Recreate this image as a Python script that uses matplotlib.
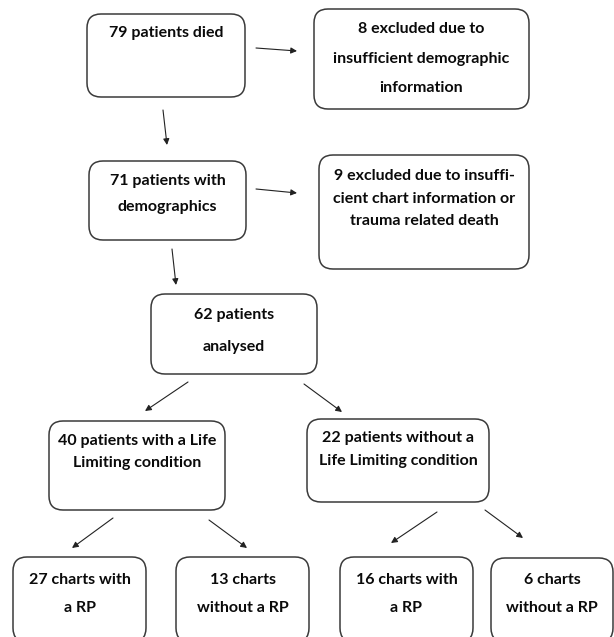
import matplotlib
matplotlib.use("Agg")
import matplotlib.pyplot as plt
from matplotlib.patches import FancyBboxPatch

# ---- data ----
counts = [79, 8, 71, 9, 62, 40, 22, 27, 13, 16, 6]
label_templates = [
    ["{} patients died"],
    ["{} excluded due to", "insufficient demographic", "information"],
    ["{} patients with", "demographics"],
    ["{} excluded due to insuffi-", "cient chart information or", "trauma related death"],
    ["{} patients", "analysed"],
    ["{} patients with a Life", "Limiting condition"],
    ["{} patients without a", "Life Limiting condition"],
    ["{} charts with", "a RP"],
    ["{} charts", "without a RP"],
    ["{} charts with", "a RP"],
    ["{} charts", "without a RP"],
]
# flow links (from box index -> to box index)
links = [(0, 1), (0, 2), (2, 3), (2, 4), (4, 5), (4, 6), (5, 7), (5, 8), (6, 9), (6, 10)]

# ---- layout (pixels) ----
W, H = 614, 637
boxes = [  # x0, y0, x1, y1
    (87, 14, 245, 97),
    (314, 9, 529, 109),
    (89, 161, 246, 240),
    (319, 155, 529, 269),
    (151, 294, 317, 374),
    (49, 421, 225, 510),
    (307, 419, 489, 502),
    (13, 557, 146, 642),
    (176, 557, 309, 642),
    (340, 557, 473, 642),
    (491, 558, 613, 642),
]
text_y = [
    [33],
    [29, 59, 88],
    [181, 207],
    [176, 199, 221],
    [315, 347],
    [441, 463],
    [438, 461],
    [580, 608],
    [580, 608],
    [580, 608],
    [580, 608],
]
arrows = [
    ((256, 48), (297, 51)),
    ((163, 110), (167, 145)),
    ((256, 189), (297, 193)),
    ((172, 249), (176, 285)),
    ((188, 382), (145, 411)),
    ((304, 384), (342, 412)),
    ((113, 518), (72, 548)),
    ((209, 520), (247, 548)),
    ((437, 512), (391, 543)),
    ((485, 510), (523, 538)),
]

fig = plt.figure(figsize=(W / 100, H / 100), dpi=100)
ax = fig.add_axes([0, 0, 1, 1])
ax.set_xlim(0, W)
ax.set_ylim(H, 0)
ax.axis("off")

FONT = ["Lato", "DejaVu Sans"]

for (x0, y0, x1, y1), tmpl, ys, n in zip(boxes, label_templates, text_y, counts):
    p = FancyBboxPatch((x0, y0), x1 - x0, y1 - y0,
                       boxstyle="round,pad=0,rounding_size=14",
                       fc="white", ec="#3a3a3a", lw=1.1)
    ax.add_patch(p)
    cx = (x0 + x1) / 2
    for i, (line, y) in enumerate(zip(tmpl, ys)):
        txt = line.format(n) if i == 0 else line
        ax.text(cx, y, txt, ha="center", va="center", fontsize=11.5,
                fontweight="bold", family=FONT, color="#0a0a0a")

for (a, b), (s, e) in zip(links, arrows):
    ax.annotate("", xy=e, xytext=s,
                arrowprops=dict(arrowstyle="-|>", mutation_scale=9, lw=0.8,
                                color="#222222", shrinkA=0, shrinkB=0))

fig.savefig("out.png", dpi=100)
